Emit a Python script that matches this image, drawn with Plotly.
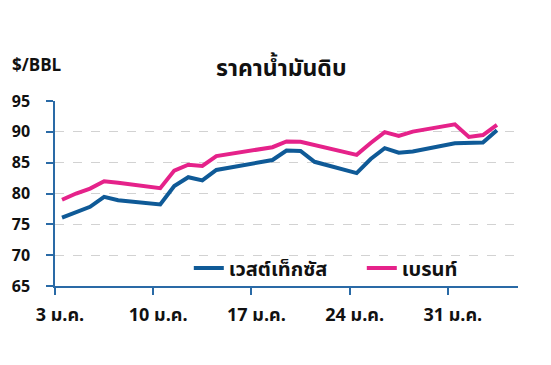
import pandas as pd
import plotly.graph_objects as go

dates = ["2022-01-03", "2022-01-04", "2022-01-05", "2022-01-06", "2022-01-07",
         "2022-01-10", "2022-01-11", "2022-01-12", "2022-01-13", "2022-01-14",
         "2022-01-18", "2022-01-19", "2022-01-20", "2022-01-21", "2022-01-24",
         "2022-01-25", "2022-01-26", "2022-01-27", "2022-01-28", "2022-01-31",
         "2022-02-01", "2022-02-02", "2022-02-03"]
wti = [76.08, 76.99, 77.85, 79.46, 78.90, 78.23, 81.22, 82.64, 82.12, 83.82,
       85.43, 86.96, 86.90, 85.14, 83.31, 85.60, 87.35, 86.61, 86.82, 88.15,
       88.20, 88.26, 90.27]
brent = [78.98, 80.00, 80.80, 81.99, 81.75, 80.87, 83.72, 84.67, 84.47, 86.06,
         87.51, 88.44, 88.38, 87.89, 86.27, 88.20, 89.96, 89.34, 90.03, 91.21,
         89.16, 89.47, 91.11]
tick_dates = ["2022-01-03", "2022-01-10", "2022-01-17", "2022-01-24", "2022-01-31"]
tick_labels = ["3 ม.ค.", "10 ม.ค.", "17 ม.ค.", "24 ม.ค.", "31 ม.ค."]
y_ticks = [65, 70, 75, 80, 85, 90, 95]
title = "ราคาน้ำมันดิบ"
unit = "$/BBL"
names = ["เวสต์เท็กซัส", "เบรนท์"]

# points sit in the middle of each day (Excel date axis style)
x = pd.to_datetime(dates) + pd.Timedelta(hours=12)

FONT = "Noto Sans Thai, Noto Sans, Roboto, sans-serif"
BLUE = "#0f5a97"
PINK = "#e5228a"
AXIS = "#2a6aa6"

fig = go.Figure()
fig.add_trace(go.Scatter(x=x, y=wti, mode="lines", name=names[0],
                         line=dict(color=BLUE, width=4)))
fig.add_trace(go.Scatter(x=x, y=brent, mode="lines", name=names[1],
                         line=dict(color=PINK, width=4)))

fig.update_layout(
    width=551, height=365,
    margin=dict(l=55, r=33, t=101, b=79, autoexpand=False),
    plot_bgcolor="white", paper_bgcolor="white",
    font=dict(family=FONT, color="#111111", size=14),
    showlegend=True,
    legend=dict(orientation="h", x=0.289, y=0.097, xanchor="left", yanchor="middle",
                font=dict(size=20, family=FONT, color="#111111", weight="bold"),
                entrywidth=128, entrywidthmode="pixels",
                bgcolor="rgba(0,0,0,0)", itemwidth=30, tracegroupgap=0),
    xaxis=dict(type="date", range=["2022-01-03", "2022-02-05"], automargin=False,
               tickmode="array", tickvals=tick_dates, ticktext=tick_labels,
               showgrid=False, showline=True, linecolor=AXIS, linewidth=1.5,
               ticks="outside", ticklen=7, tickcolor=AXIS, tickwidth=1.5,
               tickfont=dict(size=18, family=FONT, color="#111111", weight="bold"),
               ticklabelstandoff=5, ticklabelshift=5, zeroline=False),
    yaxis=dict(range=[65, 95], tickmode="array", tickvals=y_ticks, automargin=False,
               showgrid=True, gridcolor="#d2d2d2", griddash="dash", gridwidth=1,
               showline=True, linecolor=AXIS, linewidth=1.5,
               ticks="outside", ticklen=7, tickcolor=AXIS, tickwidth=1.5,
               tickfont=dict(size=16, family=FONT, color="#111111", weight="bold"),
               ticklabelstandoff=13, zeroline=False),
    annotations=[
        dict(text=title, xref="paper", yref="paper", x=0.49, y=1.0, yshift=32,
             xanchor="center", yanchor="middle", showarrow=False,
             font=dict(size=23, family=FONT, color="#111111", weight="bold")),
        dict(text=unit, xref="paper", yref="paper", x=0, xshift=-45, y=1.0, yshift=35,
             xanchor="left", yanchor="middle", showarrow=False,
             font=dict(size=17, family=FONT, color="#111111", weight="bold")),
    ],
)

fig.write_html("out.html")
